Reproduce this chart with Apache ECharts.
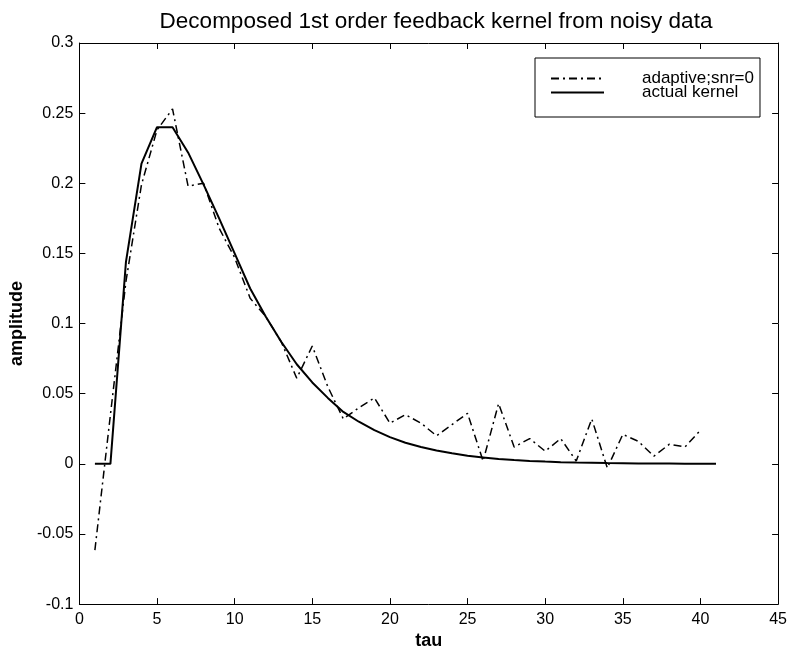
<!DOCTYPE html>
<html lang="en">
<head>
    <meta charset="UTF-8">
    <title>feedback kernel</title>
    <style type="text/css">
        html, body { margin: 0; padding: 0; background: #fff; }
        #chart { width: 790px; height: 655px; }
    </style>
</head>
<body>
    <div id="chart"></div>
    <script src="https://cdn.jsdelivr.net/npm/echarts@6/dist/echarts.min.js"></script>
    <script type="text/javascript">
        // tau values
        var tauAdaptive = [];
        for (var i = 1; i <= 40; i++) tauAdaptive.push(i);
        var tauActual = [];
        for (var j = 1; j <= 41; j++) tauActual.push(j);

        // estimated kernel, snr=0 (dash-dot)
        var adaptive = [-0.0615, 0.035, 0.13, 0.199, 0.238, 0.253, 0.198, 0.2, 0.168, 0.147,
            0.118, 0.105, 0.087, 0.061, 0.084, 0.055, 0.032, 0.04, 0.047, 0.029,
            0.035, 0.029, 0.02, 0.028, 0.036, 0.002, 0.043, 0.012, 0.018, 0.009,
            0.018, 0.002, 0.032, -0.003, 0.021, 0.016, 0.0055, 0.014, 0.012, 0.024];

        // actual kernel (solid)
        var actual = [0, 0, 0.144, 0.214, 0.24, 0.24, 0.222, 0.199, 0.175, 0.15,
            0.125, 0.105, 0.087, 0.071, 0.058, 0.047, 0.037, 0.03, 0.024, 0.019,
            0.015, 0.012, 0.0095, 0.0075, 0.0058, 0.0045, 0.0035, 0.0027, 0.0021, 0.0016,
            0.0012, 0.0009, 0.0007, 0.0005, 0.0004, 0.0003, 0.0002, 0.0002, 0.0001, 0.0001, 0.0001];

        var seriesNames = ['adaptive;snr=0', 'actual kernel'];

        function pairs(xs, ys) {
            var out = [];
            for (var k = 0; k < ys.length; k++) out.push([xs[k], ys[k]]);
            return out;
        }

        var font = 'Liberation Sans, Arial, sans-serif';
        var axisLine = { show: true, onZero: false, lineStyle: { color: '#000', width: 1 } };
        var tick = { show: true, inside: true, length: 6, lineStyle: { color: '#000' } };

        var myChart = echarts.init(document.getElementById('chart'));
        var option = {
            animation: false,
            backgroundColor: '#fff',
            title: {
                text: 'Decomposed 1st order feedback kernel from noisy data',
                left: 431,
                textAlign: 'center',
                top: 5,
                textStyle: { fontFamily: font, fontSize: 22.5, fontWeight: 'normal', color: '#000' }
            },
            legend: {
                orient: 'vertical',
                left: 535,
                top: 58,
                padding: [12, 6, 16, 15],
                itemGap: -3,
                itemWidth: 53,
                itemHeight: 13,
                itemStyle: { opacity: 0, borderWidth: 0 },
                borderColor: '#000',
                borderWidth: 1,
                backgroundColor: '#fff',
                textStyle: { fontFamily: font, fontSize: 17, color: '#000', padding: [0, 0, 0, 33], lineHeight: 13 },
                data: seriesNames
            },
            grid: { left: 78, right: 8, top: 43, bottom: 48 },
            xAxis: [
                {
                    type: 'value', min: 0, max: 45, interval: 5,
                    name: 'tau', nameLocation: 'middle', nameGap: 26,
                    nameTextStyle: { fontFamily: font, fontSize: 18, fontWeight: 'bold', color: '#000' },
                    axisLine: axisLine, axisTick: tick,
                    axisLabel: { fontFamily: font, fontSize: 16, color: '#000', margin: 7 },
                    splitLine: { show: false }
                },
                {
                    type: 'value', min: 0, max: 45, interval: 5, position: 'top',
                    axisLine: axisLine, axisTick: tick, axisLabel: { show: false }, splitLine: { show: false }
                }
            ],
            yAxis: [
                {
                    type: 'value', min: -0.1, max: 0.3, interval: 0.05,
                    name: 'amplitude', nameLocation: 'middle', nameGap: 52, nameRotate: 90,
                    nameTextStyle: { fontFamily: font, fontSize: 18, fontWeight: 'bold', color: '#000' },
                    axisLine: axisLine, axisTick: tick,
                    axisLabel: { fontFamily: font, fontSize: 16, color: '#000', margin: 6 },
                    splitLine: { show: false }
                },
                {
                    type: 'value', min: -0.1, max: 0.3, interval: 0.05, position: 'right',
                    axisLine: axisLine, axisTick: tick, axisLabel: { show: false }, splitLine: { show: false }
                }
            ],
            series: [
                {
                    name: seriesNames[0],
                    type: 'line',
                    symbol: 'none',
                    data: pairs(tauAdaptive, adaptive),
                    itemStyle: { color: '#000' },
                    lineStyle: { color: '#000', width: 1.5, type: [8, 4, 2, 4] }
                },
                {
                    name: seriesNames[1],
                    type: 'line',
                    symbol: 'none',
                    data: pairs(tauActual, actual),
                    itemStyle: { color: '#000' },
                    lineStyle: { color: '#000', width: 2, type: 'solid' }
                }
            ]
        };
        myChart.setOption(option);
    </script>
</body>
</html>
